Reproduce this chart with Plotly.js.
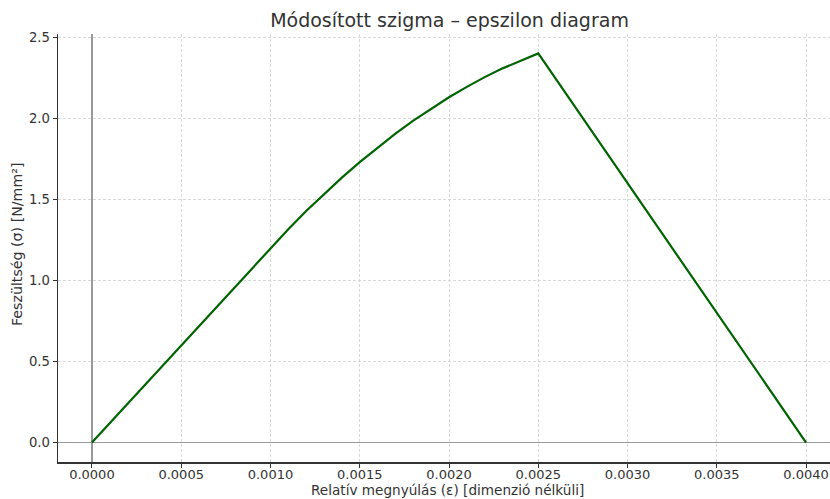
<!DOCTYPE html>
<html><head><meta charset="utf-8">
<script src="https://cdn.plot.ly/plotly-3.0.1.min.js"></script>
<style>html,body{margin:0;padding:0;background:#fff}</style>
</head><body>
<div id="chart" style="width:830px;height:499px"></div>
<script>
// Strain (epsilon) values and stress (sigma) values
const epsilon = [0, 0.0010, 0.0011, 0.0012, 0.0013, 0.0014, 0.0015, 0.0016, 0.0017, 0.0018, 0.0019, 0.0020, 0.0021, 0.0022, 0.0023, 0.0024, 0.0025, 0.0040];
const sigma   = [0, 1.20, 1.316, 1.428, 1.534, 1.634, 1.73, 1.820, 1.906, 1.986, 2.060, 2.13, 2.194, 2.254, 2.308, 2.356, 2.40, 0];
const xTicks = [0, 0.0005, 0.0010, 0.0015, 0.0020, 0.0025, 0.0030, 0.0035, 0.0040];
const xTickLabels = ["0.0000","0.0005","0.0010","0.0015","0.0020","0.0025","0.0030","0.0035","0.0040"];
const yTicks = [0, 0.5, 1.0, 1.5, 2.0, 2.5];
const yTickLabels = ["0.0","0.5","1.0","1.5","2.0","2.5"];
const xTitle = "Relatív megnyúlás (ε) [dimenzió nélküli]";
const yTitle = "Feszültség (σ) [N/mm²]";

const font = "DejaVu Sans, sans-serif";
const trace = {
  x: epsilon, y: sigma, type: "scatter", mode: "lines",
  line: {color: "#006400", width: 2.2}, hoverinfo: "skip"
};
const layout = {
  width: 830, height: 499,
  margin: {l: 58, r: 0, t: 34, b: 37},
  paper_bgcolor: "#fff", plot_bgcolor: "#fff",
  showlegend: false,
  title: {text: "Módosított szigma – epszilon diagram", font: {family: font, size: 19, color: "#333"},
          xref: "container", x: 0.5416, xanchor: "center", yref: "container", y: 0.96, yanchor: "middle"},
  xaxis: {
    range: [-0.00019, 0.004134],
    tickvals: xTicks, ticktext: xTickLabels,
    tickfont: {family: font, size: 13, color: "#333"},
    ticks: "",
    minor: {tickmode: "array", tickvals: xTicks, ticks: "outside", ticklen: 4, tickcolor: "#333", tickwidth: 1, showgrid: false},
    showline: true, linecolor: "#333", linewidth: 1.5,
    showgrid: true, gridcolor: "#d0d0d0", griddash: "3px,2px", gridwidth: 0.8,
    zeroline: true, zerolinecolor: "#999", zerolinewidth: 1.3
  },
  yaxis: {
    range: [-0.12, 2.52],
    tickvals: yTicks, ticktext: yTickLabels,
    tickfont: {family: font, size: 13.2, color: "#333"},
    ticks: "outside", ticklen: 4, tickcolor: "#333", tickwidth: 1,
    showline: true, linecolor: "#333", linewidth: 1.5,
    showgrid: true, gridcolor: "#d0d0d0", griddash: "3px,2px", gridwidth: 0.8,
    zeroline: true, zerolinecolor: "#999", zerolinewidth: 1.3
  },
  annotations: [
    {text: xTitle, xref: "paper", yref: "paper", x: 0.5045, y: -0.0867, xanchor: "center", yanchor: "bottom",
     showarrow: false, font: {family: font, size: 13.6, color: "#333"}, borderpad: 0},
    {text: yTitle, xref: "paper", yref: "paper", x: -0.0531, y: 0.507, xanchor: "center", yanchor: "middle",
     textangle: -90, showarrow: false, font: {family: font, size: 14.2, color: "#333"}}
  ]
};
Plotly.newPlot("chart", [trace], layout, {displayModeBar: false, staticPlot: true});
</script>
</body></html>
